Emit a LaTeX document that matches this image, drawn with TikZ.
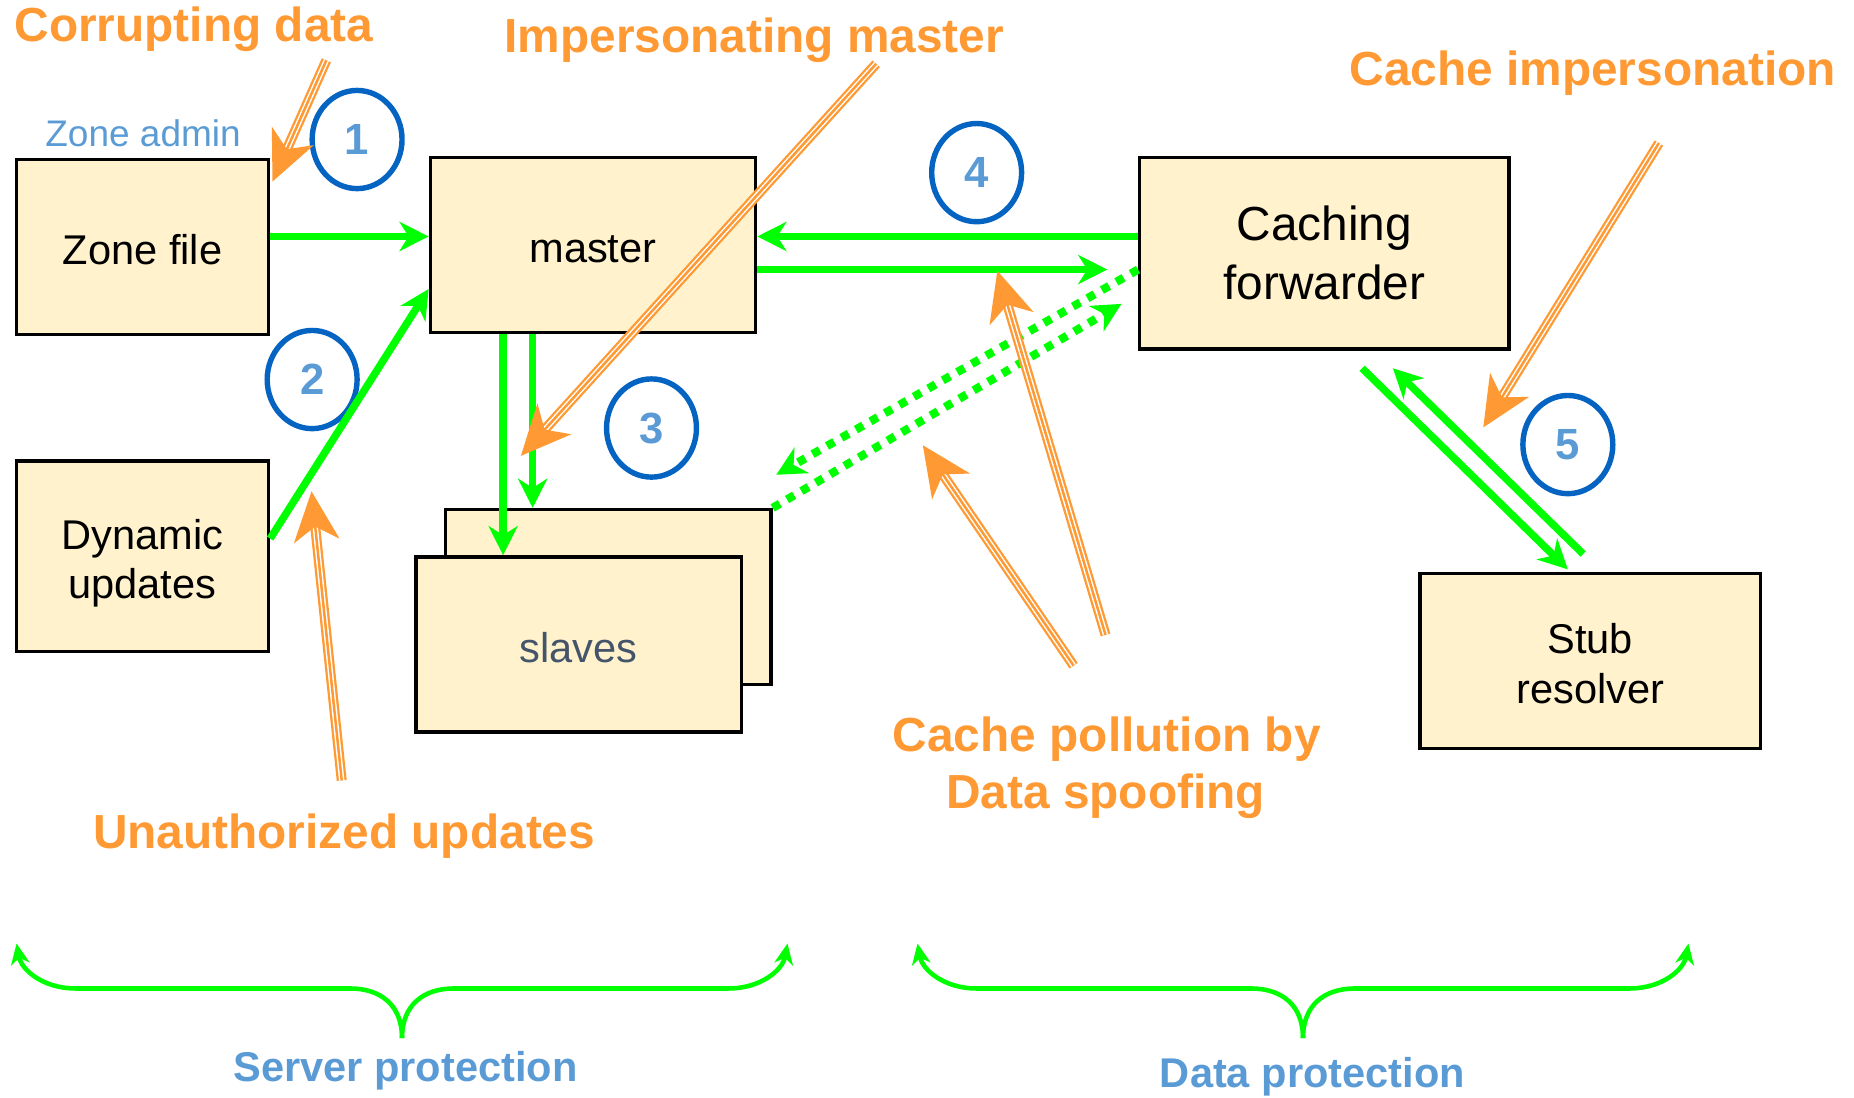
\documentclass[tikz,border=0pt]{standalone}
\usepackage{fontspec}
\setmainfont{Liberation Sans}
\usetikzlibrary{arrows.meta,shapes.geometric,calc}

\definecolor{attack}{HTML}{FF9933}
\definecolor{flow}{HTML}{00FF00}
\definecolor{boxfill}{HTML}{FFF2CC}
\definecolor{labelblue}{HTML}{5B9BD5}
\definecolor{ringblue}{HTML}{0563C1}
\definecolor{slavetext}{HTML}{44546A}

% lower a line of text without changing the space it claims
\newcommand{\lowered}[2]{\raisebox{-#1}[\height][\depth]{#2}}

\tikzset{
  box/.style={draw=black, line width=0.8pt, fill=boxfill, rectangle, inner sep=0pt,
    align=center, font=\fontsize{10}{11.8}\selectfont},
  ring/.style={ellipse, draw=ringblue, line width=1.3pt, fill=white, inner sep=0pt,
    minimum width=0.76cm, minimum height=0.83cm, text=labelblue,
    font=\fontsize{10.5}{12}\selectfont\bfseries},
  threat/.style={text=attack, font=\fontsize{11.5}{13.7}\selectfont\bfseries, inner sep=0pt},
  scope label/.style={text=labelblue, font=\fontsize{10}{12}\selectfont\bfseries, inner sep=0pt},
  flowarrow/.style={draw=flow, line width=1.8pt, -{Stealth[length=7pt,width=7pt,inset=2.2pt]}},
  flowdotted/.style={draw=flow, line width=2pt, dash pattern=on 2pt off 2pt,
    -{Stealth[length=7pt,width=7pt,inset=2.2pt]}},
  bracket/.style={draw=flow, line width=1.1pt, -{Stealth[length=5pt,width=4.5pt,inset=1.5pt]}},
  attackarrow/.style={draw=attack, line width=2.4pt, shorten >=8pt,
    postaction={draw=white, line width=1.3pt, shorten >=8pt},
    postaction={draw=attack, line width=0.6pt, shorten >=0pt,
      -{Stealth[length=12pt,width=11pt,inset=3.5pt]}}}
}

\begin{document}
\begin{tikzpicture}[x=0.01cm, y=-0.01cm]
\useasboundingbox (0,0) rectangle (1568,928);

% servers and data stores
\node[box, minimum width=2.13cm, minimum height=1.48cm] (zone) at (120.5,209) {\lowered{0.6pt}{Zone file}};
\node[box, minimum width=2.75cm, minimum height=1.48cm] (master) at (501.5,207) {\lowered{1.1pt}{master}};
\node[box, minimum width=3.12cm, minimum height=1.62cm, font=\fontsize{11.5}{14.2}\selectfont] (cache) at (1120,214) {Caching\\forwarder};
\node[box, minimum width=2.13cm, minimum height=1.61cm] (dyn) at (120.5,470.5) {\lowered{1.6pt}{Dynamic}\\\lowered{1.6pt}{updates}};
\node[box, minimum width=2.75cm, minimum height=1.48cm] (slaveback) at (514.5,505) {};
\node[box, minimum width=2.75cm, minimum height=1.48cm, text=slavetext] (slavefront) at (489.5,545) {\lowered{0.8pt}{slaves}};
\node[box, minimum width=2.88cm, minimum height=1.48cm, font=\fontsize{10}{12}\selectfont] (stub) at (1345,559) {\lowered{0.6pt}{Stub}\\\lowered{0.6pt}{resolver}};

\node[text=labelblue, font=\fontsize{8.9}{10}\selectfont, inner sep=0pt, anchor=base] (admin) at (121,124) {Zone admin};

% numbered steps
\node[ring] (r1) at (302,118) {1};
\node[ring] (r2) at (264,321) {2};
\node[ring] (r3) at (551,362) {3};
\node[ring] (r4) at (826,146) {4};
\node[ring] (r5) at (1326,376) {5};

% data flows
\draw[flowarrow] ($(zone.east)+(0,-9)$) -- ($(master.west)+(0,-7)$);
\draw[flowarrow] ($(dyn.east)+(0,-15)$) -- ($(master.south west)+(0,-38)$);
\draw[flowarrow] ($(master.south west)+(63,0)$) -- ($(slavefront.north west)+(75,0)$);
\draw[flowarrow] ($(master.south west)+(88,0)$) -- ($(slaveback.north west)+(75,0)$);
\draw[flowarrow] ($(cache.west)+(0,-14)$) -- ($(master.east)+(0,-7)$);
\draw[flowarrow] ($(master.east)+(0,21)$) -- ($(cache.west)+(-26,14)$);
\draw[flowdotted] ($(cache.west)+(0,14)$) -- ($(slaveback.north east)+(3,-28)$);
\draw[flowdotted] (slaveback.north east) -- ($(cache.west)+(-14,43)$);
\draw[flowarrow] ($(cache.south)+(32,15)$) -- ($(stub.north)+(-19,-2)$);
\draw[flowarrow] ($(stub.north)+(-6,-15)$) -- ($(cache.south)+(58,15)$);

% threat labels
\node[threat, anchor=base] (tcorrupt) at (164,35) {Corrupting data};
\node[threat, anchor=base] (timperson) at (638,44) {Impersonating master};
\node[threat, anchor=base] (tcacheimp) at (1347,72) {Cache impersonation};
\node[threat, anchor=base] (tunauth) at (291,718) {Unauthorized updates};
\node[threat, anchor=base] (tpollute) at (936,636) {Cache pollution by};
\node[threat, anchor=base] (tspoof) at (935,684) {Data spoofing};

% threat arrows
\coordinate (a1) at (276,51);
\coordinate (a2) at (741,54);
\coordinate (a3) at (1403,121);
\coordinate (a4) at (289,660);
\coordinate (a5) at (908,563);
\coordinate (a6) at (935,537);
\draw[attackarrow] (a1) -- ($(zone.north east)+(2,20)$);
\draw[attackarrow] (a2) -- ($(slaveback.north west)+(65,-44)$);
\draw[attackarrow] (a3) -- ($(cache.south east)+(-23,65)$);
\draw[attackarrow] (a4) -- ($(dyn.north east)+(35,27)$);
\draw[attackarrow] (a5) -- ($(slaveback.north east)+(127,-53)$);
\draw[attackarrow] (a6) -- ($(master.east)+(203,22)$);

% protection brackets
\coordinate (lb) at (340,878);
\coordinate (rb) at (1102,878);
\draw[bracket] (lb) .. controls (340,850) and (322,836) .. (296,836) -- (64,836)
  .. controls (36,836) and (18,820) .. (14,798);
\draw[bracket] (lb) .. controls (340,850) and (358,836) .. (384,836) -- (616,836)
  .. controls (644,836) and (662,820) .. (666,798);
\draw[bracket] (rb) .. controls (1102,850) and (1084,836) .. (1058,836) -- (826,836)
  .. controls (798,836) and (780,820) .. (776,798);
\draw[bracket] (rb) .. controls (1102,850) and (1120,836) .. (1146,836) -- (1378,836)
  .. controls (1406,836) and (1424,820) .. (1428,798);

\node[scope label, anchor=base] (sprot) at (343,915) {Server protection};
\node[scope label, anchor=base] (dprot) at (1110,920) {Data protection};
\end{tikzpicture}
\end{document}
